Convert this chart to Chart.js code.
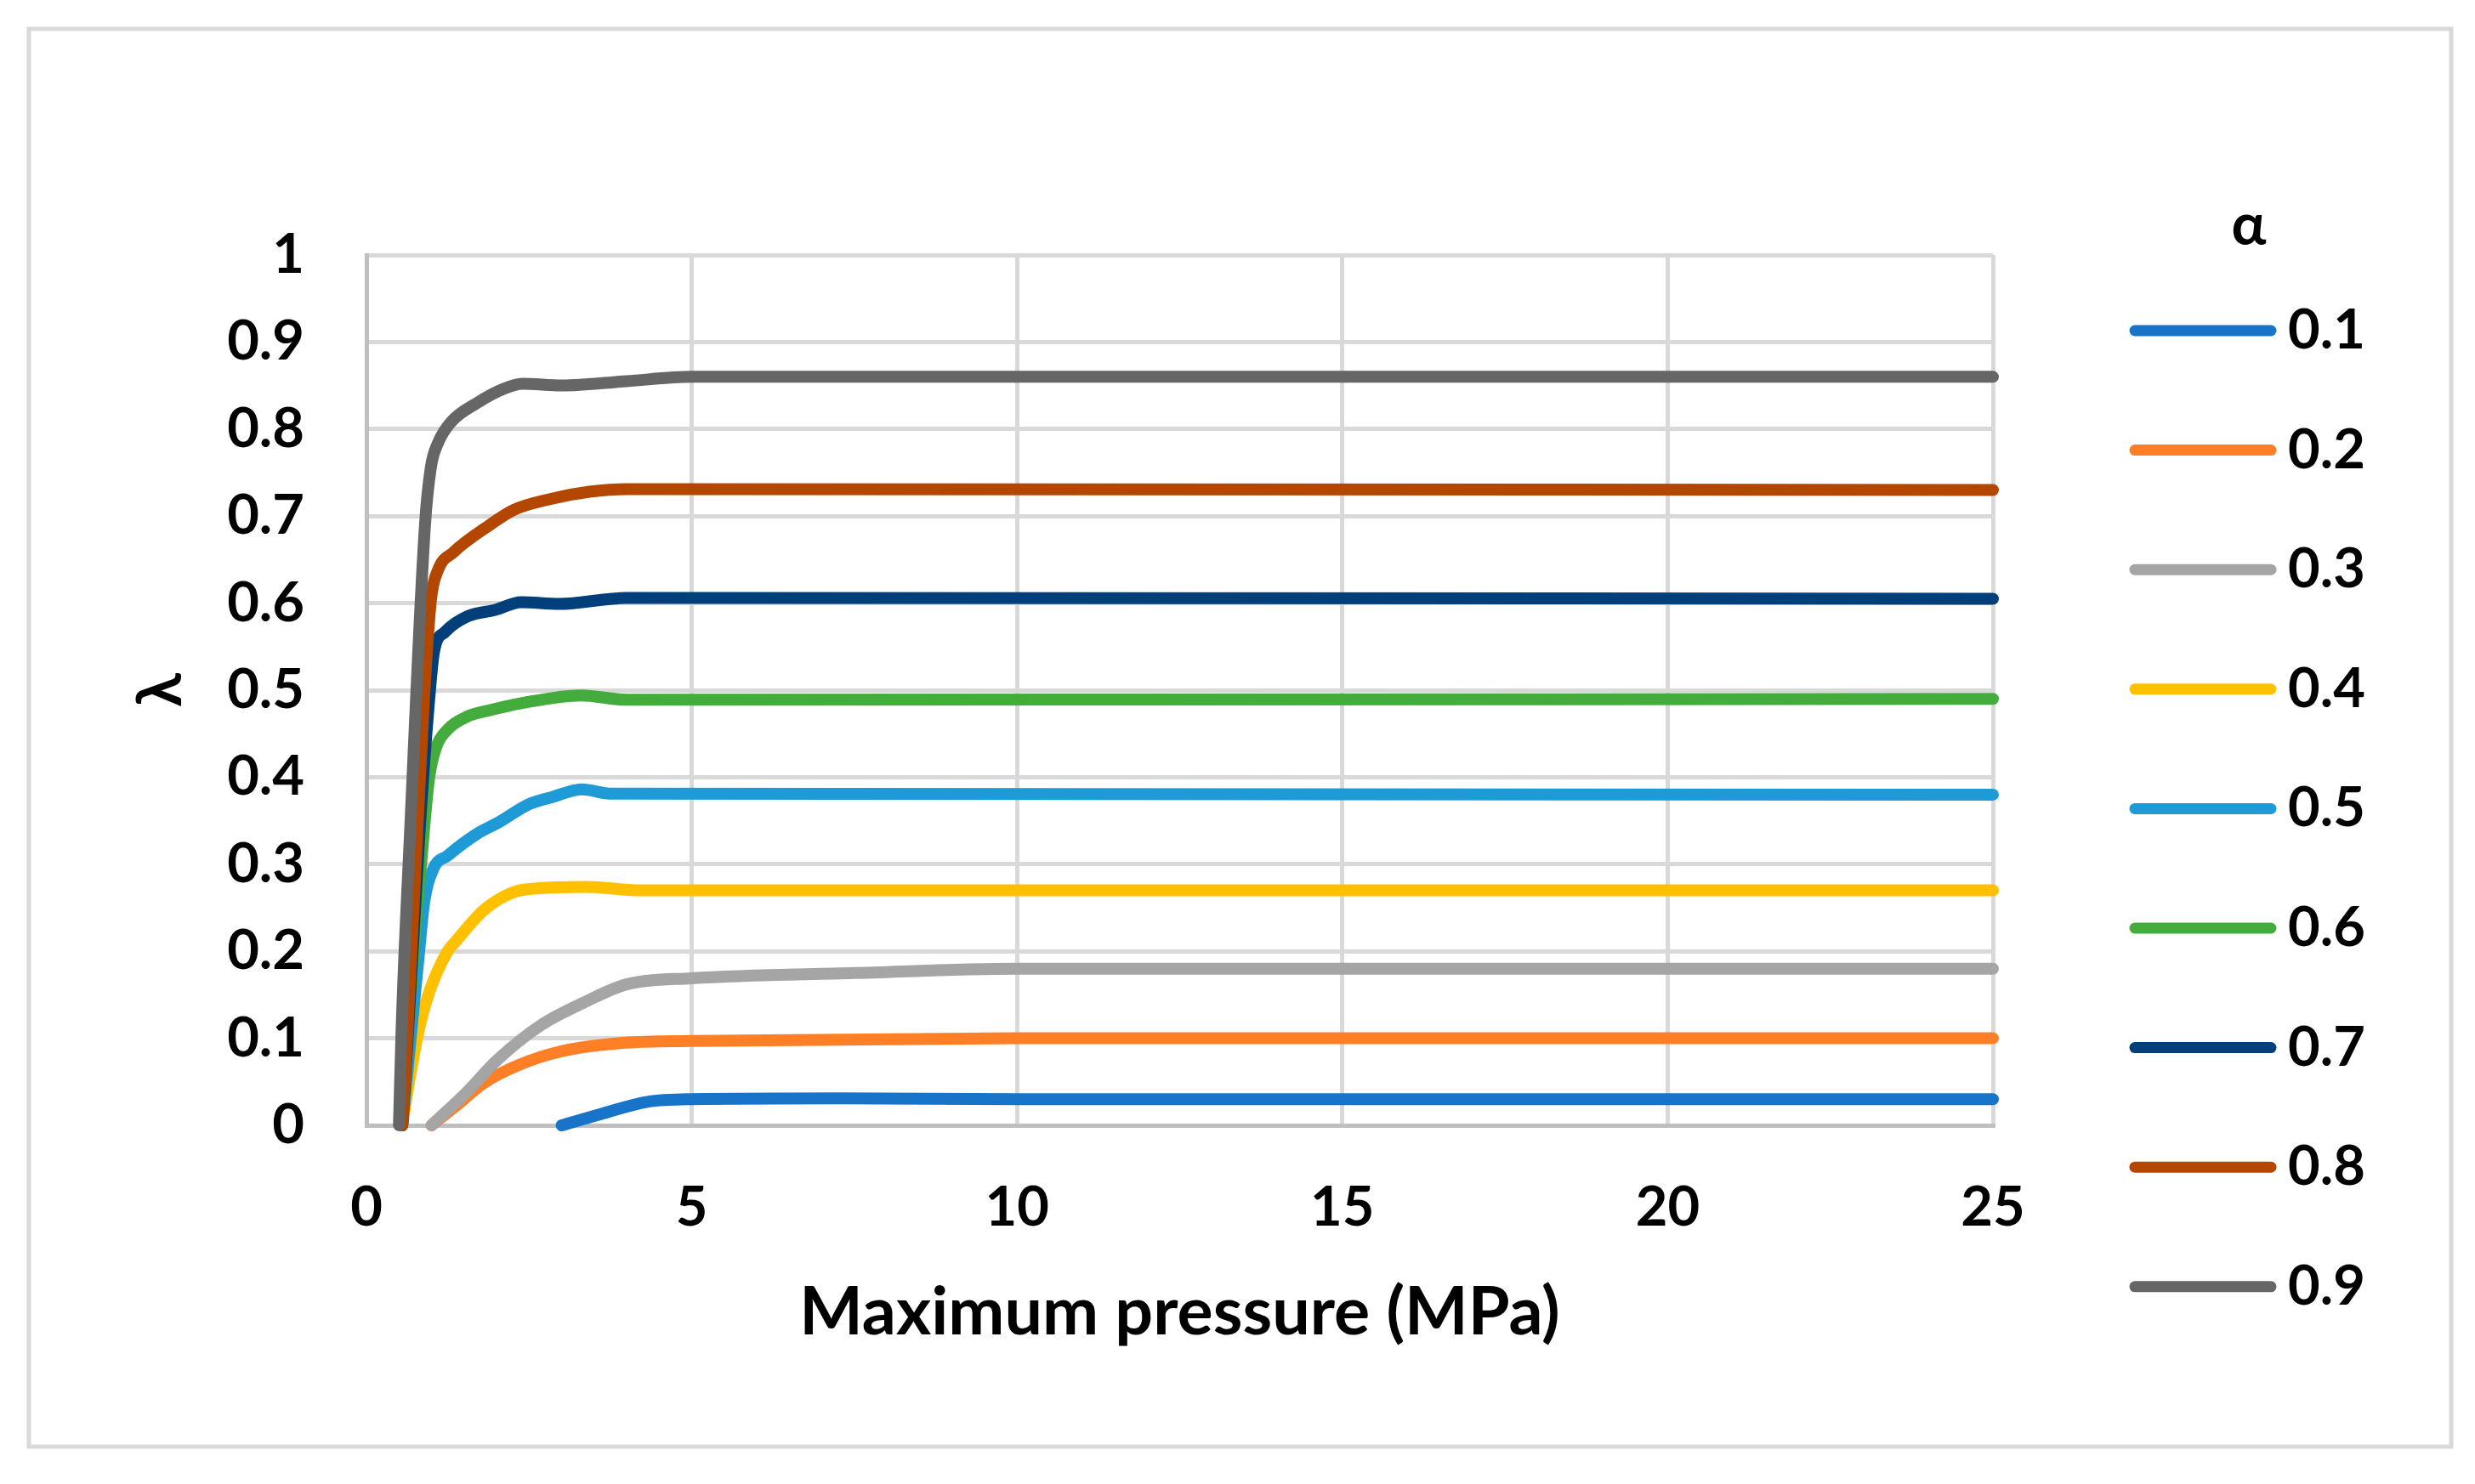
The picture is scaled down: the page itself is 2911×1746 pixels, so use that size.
<!DOCTYPE html>
<html>
<head>
    <meta charset="UTF-8">
    <title>Lambda vs maximum pressure</title>
    <script src="https://cdn.jsdelivr.net/npm/chart.js"></script>
    <style>
        body {
            margin: 0;
            background-color: #fff;
        }
        .chart-box {
            position: relative;
            width: 2911px;
            height: 1746px;
        }
    </style>
</head>
<body>
<div class="chart-box">
    <canvas id="lambdaChart"></canvas>
</div>
<script>
    // alpha values (legend) and tick labels
    const alphaLabels = ['0.1', '0.2', '0.3', '0.4', '0.5', '0.6', '0.7', '0.8', '0.9'];
    const xTickLabels = ['0', '5', '10', '15', '20', '25'];
    const yTickLabels = ['0', '0.1', '0.2', '0.3', '0.4', '0.5', '0.6', '0.7', '0.8', '0.9', '1'];

    // maximum pressure (MPa) and lambda, one pair per alpha
    const p01 = [3.0, 3.65, 4.32, 5.0, 7.3, 10, 25];
    const l01 = [0, 0.014, 0.027, 0.03, 0.031, 0.03, 0.03];
    const p02 = [1.0, 1.4, 1.79, 2.33, 2.99, 3.98, 5.0, 10, 25];
    const l02 = [0, 0.024, 0.048, 0.069, 0.085, 0.095, 0.097, 0.1, 0.1];
    const p03 = [1.0, 1.54, 2.01, 2.68, 3.34, 4.0, 5.0, 7.5, 10, 25];
    const l03 = [0, 0.038, 0.075, 0.115, 0.141, 0.162, 0.169, 0.175, 0.18, 0.18];
    const p04 = [0.55, 0.64, 0.80, 0.97, 1.24, 1.38, 1.8, 2.14, 2.44, 3.4, 4.2, 25];
    const l04 = [0, 0.043, 0.108, 0.154, 0.199, 0.212, 0.247, 0.264, 0.271, 0.274, 0.27, 0.27];
    const p05 = [0.55, 0.69, 0.81, 0.885, 1.03, 1.25, 1.68, 2.03, 2.5, 2.85, 3.31, 3.77, 25];
    const l05 = [0, 0.108, 0.2, 0.255, 0.295, 0.31, 0.334, 0.348, 0.369, 0.377, 0.386, 0.381, 0.38];
    const p06 = [0.55, 0.64, 0.88, 0.965, 1.07, 1.25, 1.56, 1.9, 2.38, 3.3, 4.0, 25];
    const l06 = [0, 0.108, 0.336, 0.40, 0.434, 0.455, 0.47, 0.477, 0.485, 0.494, 0.489, 0.49];
    const p07 = [0.55, 0.64, 0.815, 0.965, 1.04, 1.21, 1.56, 1.97, 2.38, 2.96, 4.0, 25];
    const l07 = [0, 0.108, 0.336, 0.49, 0.545, 0.567, 0.585, 0.592, 0.601, 0.599, 0.606, 0.605];
    const p08 = [0.55, 0.63, 0.78, 0.885, 0.99, 1.1, 1.33, 1.9, 2.26, 2.85, 3.43, 4.0, 25];
    const l08 = [0, 0.108, 0.336, 0.49, 0.603, 0.638, 0.658, 0.69, 0.707, 0.72, 0.728, 0.731, 0.73];
    const p09 = [0.5, 0.54, 0.67, 0.9, 0.99, 1.1, 1.3, 1.7, 2.1, 2.4, 3.0, 4.0, 5.0, 25];
    const l09 = [0, 0.11, 0.336, 0.69, 0.756, 0.784, 0.808, 0.83, 0.846, 0.852, 0.85, 0.855, 0.86, 0.86];

    const pressures = [p01, p02, p03, p04, p05, p06, p07, p08, p09];
    const lambdas = [l01, l02, l03, l04, l05, l06, l07, l08, l09];
    const colors = ['#1874C8', '#FF7F27', '#A5A5A5', '#FFC000', '#1E9BD7', '#43AC3C', '#003F7A', '#B34700', '#666666'];

    const fontFamily = 'Lato, "Noto Sans", "DejaVu Sans", sans-serif';

    const datasets = alphaLabels.map((label, i) => ({
        label: label,
        data: pressures[i].map((p, j) => ({x: p, y: lambdas[i][j]})),
        borderColor: colors[i],
        backgroundColor: colors[i],
        borderWidth: 14,
        borderCapStyle: 'round',
        borderJoinStyle: 'round',
        pointRadius: 0,
        cubicInterpolationMode: 'monotone',
        clip: false,
        order: alphaLabels.length - i   // later series on top, like the original
    }));

    // white page + light frame
    const framePlugin = {
        id: 'frame',
        beforeDraw(chart) {
            const ctx = chart.ctx;
            ctx.save();
            ctx.fillStyle = '#fff';
            ctx.fillRect(0, 0, chart.width, chart.height);
            ctx.strokeStyle = '#d9d9d9';
            ctx.lineWidth = 5;
            ctx.strokeRect(34, 34, 2849, 1668);
            ctx.restore();
        }
    };

    // legend on the right with the alpha title
    const sideLegend = {
        id: 'sideLegend',
        afterDraw(chart) {
            const ctx = chart.ctx;
            ctx.save();
            ctx.fillStyle = '#000';
            ctx.font = 'bold 68px ' + fontFamily;
            ctx.textAlign = 'center';
            ctx.textBaseline = 'middle';
            ctx.fillText('α', 2645, 266);
            ctx.font = 'bold 65px ' + fontFamily;
            ctx.textAlign = 'left';
            chart.data.datasets.forEach((ds, i) => {
                const y = 389 + i * 140.6;
                ctx.strokeStyle = ds.borderColor;
                ctx.lineWidth = 13;
                ctx.lineCap = 'round';
                ctx.beginPath();
                ctx.moveTo(2511, y);
                ctx.lineTo(2671, y);
                ctx.stroke();
                ctx.fillText(ds.label, 2691, y);
            });
            ctx.restore();
        }
    };

    const lambdaChart = new Chart(document.getElementById('lambdaChart'), {
        type: 'line',
        data: {datasets: datasets},
        plugins: [framePlugin, sideLegend],
        options: {
            responsive: true,
            maintainAspectRatio: false,
            devicePixelRatio: 1,
            animation: false,
            layout: {
                padding: {left: 0, top: 300, right: 567, bottom: 0}
            },
            plugins: {
                legend: {display: false},
                tooltip: {enabled: false}
            },
            scales: {
                x: {
                    type: 'linear',
                    min: 0,
                    max: 25,
                    afterFit: (scale) => { scale.height = 422; },
                    afterBuildTicks: (scale) => {
                        scale.ticks = xTickLabels.map(t => ({value: Number(t)}));
                    },
                    ticks: {
                        callback: (v, i) => xTickLabels[i],
                        color: '#000',
                        padding: 58,
                        maxRotation: 0,
                        font: {family: fontFamily, size: 65, weight: 'bold'}
                    },
                    grid: {color: '#d9d9d9', lineWidth: 5, drawTicks: false},
                    border: {color: '#bfbfbf', width: 5},
                    title: {
                        display: true,
                        text: 'Maximum pressure (MPa)',
                        color: '#000',
                        padding: {top: 0, bottom: 154},
                        font: {family: fontFamily, size: 79, weight: 'bold'}
                    }
                },
                y: {
                    min: 0,
                    max: 1,
                    afterFit: (scale) => { scale.width = 431; },
                    afterBuildTicks: (scale) => {
                        scale.ticks = yTickLabels.map(t => ({value: Number(t)}));
                    },
                    ticks: {
                        callback: (v, i) => yTickLabels[i],
                        color: '#000',
                        padding: 73,
                        font: {family: fontFamily, size: 65, weight: 'bold'}
                    },
                    grid: {color: '#d9d9d9', lineWidth: 5, drawTicks: false},
                    border: {color: '#bfbfbf', width: 5},
                    title: {
                        display: true,
                        text: 'λ',
                        color: '#000',
                        padding: {top: 147, bottom: 0},
                        font: {family: fontFamily, size: 72, weight: 'bold'}
                    }
                }
            }
        }
    });
</script>
</body>
</html>
